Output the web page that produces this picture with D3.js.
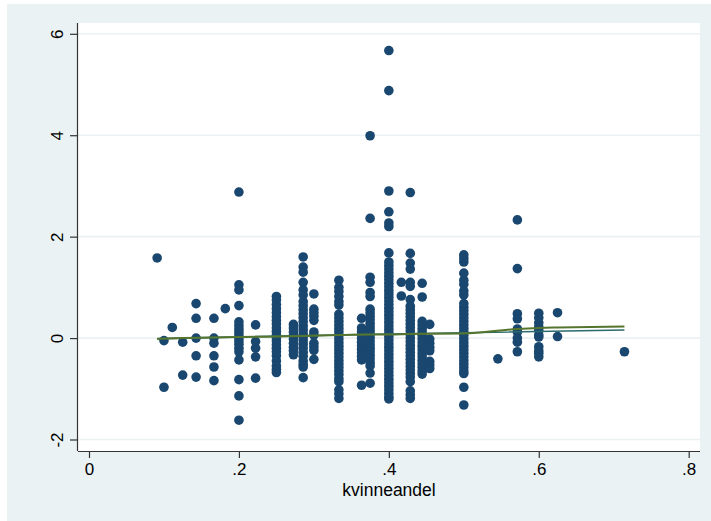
<!DOCTYPE html>
<html>
<head>
<meta charset="utf-8">
<script src="https://cdn.jsdelivr.net/npm/d3@7"></script>
<style>
  html, body { margin: 0; padding: 0; background: #ffffff; }
  svg { display: block; }
  text { font-family: "Liberation Sans", Arial, sans-serif; fill: #000; }
</style>
</head>
<body>
<svg id="chart" width="711" height="521"></svg>
<script>
// kvinneandel values (one per column of points)
const shareValues = [1/11, 0.1, 1/9, 0.125, 1/7, 1/6, 2/11, 0.2, 2/9, 0.25, 3/11, 2/7, 0.3, 1/3,
  4/11, 0.375, 0.4, 5/12, 3/7, 4/9, 5/11, 0.5, 6/11, 4/7, 0.6, 0.625, 5/7];

// observed outcome values for each kvinneandel column
const outcomeValues = [
  [1.58],
  [-0.05, -0.97],
  [0.21],
  [-0.08, -0.73],
  [0.68, 0.39, 0.0, -0.35, -0.77],
  [0.39, 0.0, -0.1, -0.35, -0.57, -0.84],
  [0.58],
  [2.88, 1.05, 0.95, 0.64, 0.32, 0.25, 0.18, 0.12, 0.06, 0.0, -0.06, -0.12, -0.2, -0.27, -0.43, -0.82, -1.14, -1.62],
  [0.26, -0.07, -0.2, -0.37, -0.79],
  [0.82, 0.75, 0.66, 0.58, 0.5, 0.42, 0.35, 0.28, 0.2, 0.13, 0.06, 0.0, -0.06, -0.13, -0.2, -0.27, -0.35, -0.45, -0.55, -0.62, -0.68],
  [0.27, 0.2, 0.12, 0.05, -0.02, -0.1, -0.18, -0.25, -0.33],
  [1.6, 1.4, 1.3, 1.1, 0.95, 0.85, 0.72, 0.64, 0.56, 0.48, 0.4, 0.32, 0.24, 0.16, 0.08, 0.02, -0.05, -0.12, -0.2, -0.28, -0.36, -0.45, -0.52, -0.57, -0.78],
  [0.87, 0.57, 0.5, 0.43, 0.35, 0.12, 0.06, -0.1, -0.17, -0.24, -0.42],
  [1.14, 1.0, 0.92, 0.82, 0.72, 0.65, 0.47, 0.4, 0.33, 0.26, 0.19, 0.12, 0.05, -0.02, -0.09, -0.16, -0.23, -0.3, -0.37, -0.44, -0.51, -0.58, -0.65, -0.72, -0.8, -0.86, -1.02, -1.1, -1.19],
  [0.39, 0.2, 0.13, 0.06, -0.01, -0.08, -0.15, -0.22, -0.29, -0.36, -0.43, -0.93],
  [3.99, 2.36, 1.2, 1.1, 0.9, 0.82, 0.57, 0.5, 0.43, 0.36, 0.29, 0.22, 0.15, 0.08, 0.01, -0.06, -0.13, -0.2, -0.27, -0.34, -0.41, -0.48, -0.55, -0.69, -0.89],
  [5.67, 4.88, 2.9, 2.49, 2.27, 2.2, 1.68, 1.5, 1.43, 1.36, 1.29, 1.22, 1.15, 1.08, 1.01, 0.94, 0.87, 0.8, 0.73, 0.66, 0.59, 0.52, 0.45, 0.38, 0.31, 0.24, 0.17, 0.1, 0.03, -0.04, -0.11, -0.18, -0.25, -0.32, -0.39, -0.46, -0.53, -0.6, -0.67, -0.74, -0.81, -0.88, -0.95, -1.02, -1.09, -1.16, -1.2],
  [1.1, 0.83],
  [2.87, 1.67, 1.48, 1.36, 1.1, 1.02, 0.76, 0.63, 0.56, 0.49, 0.42, 0.35, 0.28, 0.21, 0.14, 0.07, 0.0, -0.07, -0.14, -0.21, -0.28, -0.35, -0.42, -0.49, -0.56, -0.63, -0.7, -0.77, -0.86, -1.04, -1.12, -1.19],
  [1.08, 0.81, 0.33, 0.26, 0.19, 0.12, 0.05, -0.02, -0.09, -0.16, -0.23, -0.3, -0.37, -0.44, -0.51, -0.58, -0.65, -0.71],
  [0.27, -0.02, -0.1, -0.18, -0.25, -0.46, -0.53, -0.6],
  [1.64, 1.57, 1.5, 1.28, 1.14, 1.06, 0.93, 0.85, 0.68, 0.61, 0.54, 0.47, 0.4, 0.33, 0.26, 0.19, 0.12, 0.05, -0.02, -0.09, -0.16, -0.23, -0.3, -0.37, -0.44, -0.51, -0.58, -0.65, -0.7, -0.97, -1.32],
  [-0.41],
  [2.33, 1.37, 0.48, 0.38, 0.18, 0.12, 0.0, -0.08, -0.27],
  [0.49, 0.4, 0.3, 0.22, 0.15, 0.06, 0.02, -0.17, -0.25, -0.3, -0.37],
  [0.5, 0.03],
  [-0.27]
];

// smoothed fit (green) and linear fit (teal)
const smoothX = [1/11, 0.1, 0.125, 1/6, 0.2, 0.25, 2/7, 1/3, 0.375, 0.4, 3/7, 0.5, 4/7, 0.6, 0.625, 5/7];
const smoothY = [-0.02, -0.01, 0.0, 0.01, 0.02, 0.03, 0.04, 0.06, 0.07, 0.07, 0.08, 0.09, 0.18, 0.2, 0.21, 0.23];
const linearX = [1/11, 0.4, 5/7];
const linearY = [-0.01, 0.08, 0.16];

const xTicks = [0, 0.2, 0.4, 0.6, 0.8];
const xTickLabels = ["0", ".2", ".4", ".6", ".8"];
const yTicks = [-2, 0, 2, 4, 6];
const yTickLabels = ["-2", "0", "2", "4", "6"];
const xTitle = "kvinneandel";

const svg = d3.select("#chart");
const W = 711, H = 521;
const plot = { left: 78, right: 700, top: 23, bottom: 451 };

// outer graph region
svg.append("rect").attr("x", 7).attr("y", 4).attr("width", W - 7).attr("height", H - 4)
  .attr("fill", "#eaf2f3");
svg.append("rect").attr("x", plot.left).attr("y", plot.top)
  .attr("width", plot.right - plot.left).attr("height", plot.bottom - plot.top)
  .attr("fill", "#ffffff");

const x = d3.scaleLinear().domain([0, 0.8]).range([89, 688.7]);
const y = d3.scaleLinear().domain([-2, 6]).range([439.5, 33.8]);

// horizontal grid lines
svg.append("g").selectAll("line").data(yTicks).join("line")
  .attr("x1", plot.left).attr("x2", plot.right)
  .attr("y1", d => y(d)).attr("y2", d => y(d))
  .attr("stroke", "#eaf2f3").attr("stroke-width", 1.6);

// points
const pts = [];
shareValues.forEach((sx, i) => outcomeValues[i].forEach(v => pts.push([sx, v])));
svg.append("g").selectAll("circle").data(pts).join("circle")
  .attr("cx", d => x(d[0])).attr("cy", d => y(d[1])).attr("r", 4.8)
  .attr("fill", "#1a476f");

// fitted lines
const line = d3.line().x(d => x(d[0])).y(d => y(d[1]));
svg.append("path").datum(linearX.map((v, i) => [v, linearY[i]]))
  .attr("d", line).attr("fill", "none").attr("stroke", "#2b6a6c").attr("stroke-width", 1.6);
svg.append("path").datum(smoothX.map((v, i) => [v, smoothY[i]]))
  .attr("d", d3.line().curve(d3.curveMonotoneX).x(d => x(d[0])).y(d => y(d[1])))
  .attr("fill", "none").attr("stroke", "#55752f").attr("stroke-width", 2);

// axes
const axisColor = "#333333";
const xAxis = d3.axisBottom(x).tickValues(xTicks).tickFormat((d, i) => xTickLabels[i])
  .tickSize(7).tickSizeOuter(0);
const gx = svg.append("g").attr("transform", `translate(0,${plot.bottom})`).call(xAxis);
gx.select(".domain").attr("d", `M${plot.left},0.5H${plot.right}`).attr("stroke", axisColor).attr("stroke-width", 1.2);
gx.selectAll(".tick line").attr("stroke", axisColor).attr("stroke-width", 1.2);
gx.selectAll(".tick text").attr("font-size", 17).attr("y", 12).attr("dy", "0.71em")
  .style("font-family", "'Liberation Sans', Arial, sans-serif").attr("fill", "#000");

const yAxis = d3.axisLeft(y).tickValues(yTicks).tickFormat((d, i) => yTickLabels[i])
  .tickSize(8).tickSizeOuter(0);
const gy = svg.append("g").attr("transform", `translate(${plot.left},0)`).call(yAxis);
gy.select(".domain").attr("d", `M-0.5,${plot.top}V${plot.bottom}`).attr("stroke", axisColor).attr("stroke-width", 1.2);
gy.selectAll(".tick line").attr("stroke", axisColor).attr("stroke-width", 1.2);
gy.selectAll(".tick text")
  .attr("x", null).attr("dy", null)
  .attr("text-anchor", "middle")
  .attr("transform", "translate(-15,0) rotate(-90)")
  .attr("y", 0)
  .attr("font-size", 17)
  .style("font-family", "'Liberation Sans', Arial, sans-serif").attr("fill", "#000");

// axis title
svg.append("text").attr("x", (plot.left + plot.right) / 2).attr("y", 496)
  .attr("text-anchor", "middle").attr("font-size", 17.5).text(xTitle);
</script>
</body>
</html>
